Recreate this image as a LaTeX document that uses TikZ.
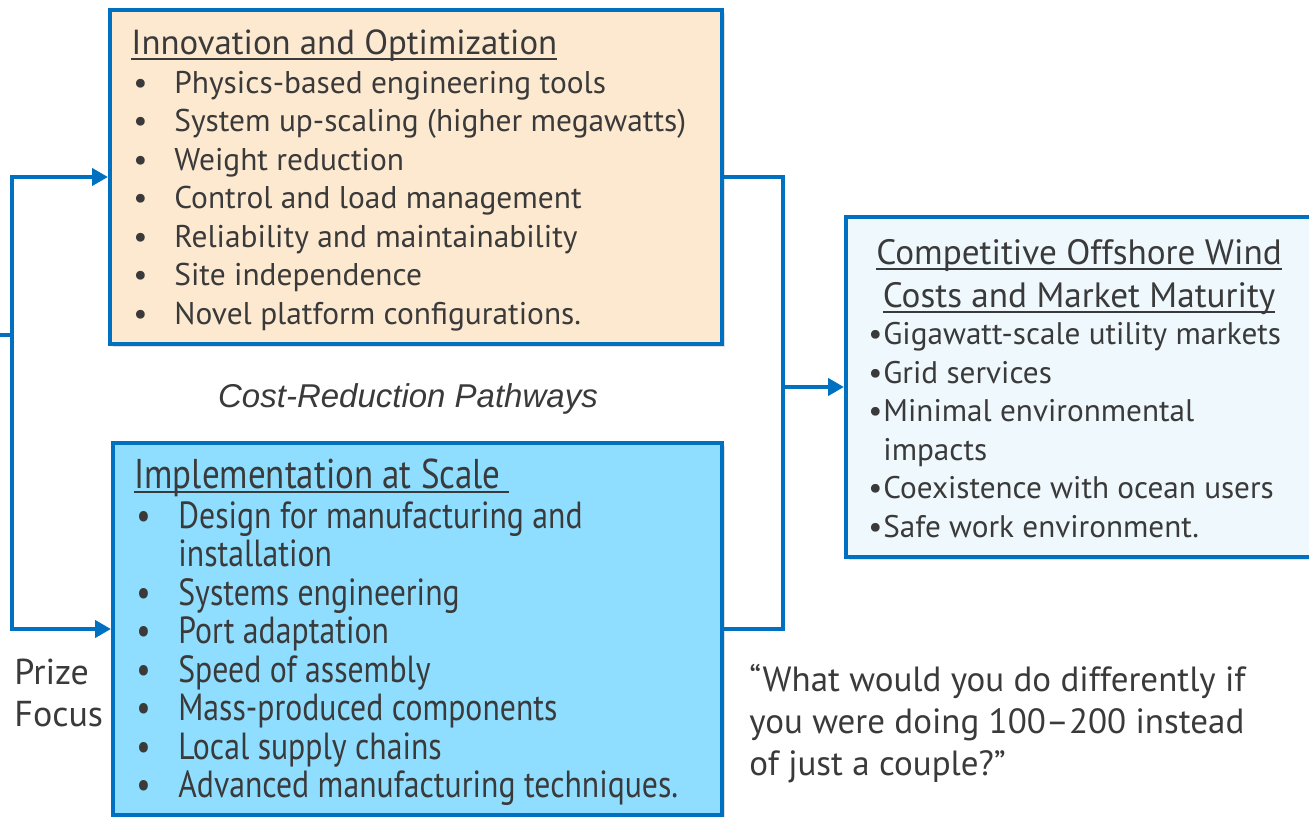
\documentclass[tikz,border=0pt]{standalone}
\usepackage{fontspec}
\usepackage{xcolor}
\setmainfont{PT Sans}
\newfontfamily\condfont[FakeStretch=0.84]{PT Sans}
\newfontfamily\arialfont{Liberation Sans}
\usetikzlibrary{arrows.meta,shadows}
\newcommand{\hdline}[1]{\setbox0\hbox{#1}\rlap{\rule[-2.5pt]{\wd0}{1pt}}\box0}
\newcommand{\dotitem}{\makebox[7.5pt][l]{\textbullet}}
\definecolor{boxblue}{HTML}{0070C0}
\definecolor{peach}{HTML}{FCE9D0}
\definecolor{skyfill}{HTML}{8FDDFF}
\definecolor{icefill}{HTML}{EEF8FD}
\definecolor{txtgray}{HTML}{3A3A3A}
\tikzset{>={Triangle[length=8pt,width=8.5pt]}}
\tikzset{
  panel/.style={draw=boxblue, line width=2pt, inner sep=0pt,
    drop shadow={shadow xshift=1.5pt, shadow yshift=-1.5pt, opacity=0.25}},
  link/.style={draw=boxblue, line width=2pt},
  words/.style={text=txtgray, inner sep=0pt, anchor=base west}
}

\begin{document}
\begin{tikzpicture}[x=0.5pt,y=-0.5pt]
        \clip (0,0) rectangle (1309,817);
        \fill[white] (0,0) rectangle (1309,817);

        % boxes
        \node[panel, fill=peach, minimum width=306pt, minimum height=167pt] (innov) at (416,177) {};
        \node[panel, fill=skyfill, minimum width=304.5pt, minimum height=186pt] (impl) at (417.5,629) {};
        \node[panel, fill=icefill, minimum width=237pt, minimum height=170pt] (cowind) at (1083,387) {};

        % connectors
        \coordinate (lstart) at (0,335);
        \coordinate (lbend) at (12,335);
        \coordinate (rbar) at (783,387);
        \draw[link,->] (lstart) -- (lbend) |- (innov.west);
        \draw[link,->] (lbend) |- (impl.west);
        \draw[link] (innov.east) -| (rbar) |- (impl.east);
        \draw[link,->] (rbar) -- (cowind.west);

        % box texts
        \node[words] (innovtxt) at (131,55) {\fontsize{15.7}{19.25}\selectfont
          \begin{tabular}[t]{@{\hspace{1pt}}p{20.5pt}@{}l@{}}
            \multicolumn{2}{@{}l@{}}{\fontsize{17.4}{19.25}\selectfont\hdline{Innovation and Optimization}}\\
            \textbullet & Physics-based engineering tools\\
            \textbullet & System up-scaling (higher megawatts)\\
            \textbullet & Weight reduction\\
            \textbullet & Control and load management\\
            \textbullet & Reliability and maintainability\\
            \textbullet & Site independence\\
            \textbullet & Novel platform configurations.
          \end{tabular}};
        \node[words] (impltxt) at (134,488) {\condfont\fontsize{18.9}{19.25}\selectfont
          \begin{tabular}[t]{@{\hspace{1pt}}p{21pt}@{}l@{}}
            \multicolumn{2}{@{}l@{}}{\fontsize{20.8}{19.25}\selectfont\hdline{Implementation at Scale\hspace{4pt}}}\\[0.75pt]
            \textbullet & Design for manufacturing and\\
                        & installation\\
            \textbullet & Systems engineering\\
            \textbullet & Port adaptation\\
            \textbullet & Speed of assembly\\
            \textbullet & Mass-produced components\\
            \textbullet & Local supply chains\\
            \textbullet & Advanced manufacturing techniques.
          \end{tabular}};
        \node[words] (cowindtxt) at (868,265) {\fontsize{15.6}{19.25}\selectfont
          \begin{tabular}[t]{@{}l@{}}
            \multicolumn{1}{@{}c@{}}{\hspace{4pt}\fontsize{17.6}{19.25}\selectfont\hdline{Competitive Offshore Wind}}\\[2.25pt]
            \multicolumn{1}{@{}c@{}}{\hspace{4pt}\fontsize{17.6}{19.25}\selectfont\hdline{Costs and Market Maturity}}\\[-0.75pt]
            \dotitem Gigawatt-scale utility markets\\
            \dotitem Grid services\\
            \dotitem Minimal environmental\\
            \phantom{\dotitem}impacts\\
            \dotitem Coexistence with ocean users\\
            \dotitem Safe work environment.
          \end{tabular}};

        % free labels
        \node[text=txtgray, inner sep=0pt, anchor=base] (pathways) at (408,408) {\arialfont\itshape\fontsize{16.5}{20}\selectfont Cost-Reduction Pathways};
        \node[words, align=left, font=\fontsize{18}{21}\selectfont] (prize) at (14,726) {Prize\\Focus};
        \node[words, align=left, font=\fontsize{17.5}{21}\selectfont] (quote) at (749,775) {“What would you do differently if\\you were doing 100–200 instead\\of just a couple?”};
\end{tikzpicture}
\end{document}
